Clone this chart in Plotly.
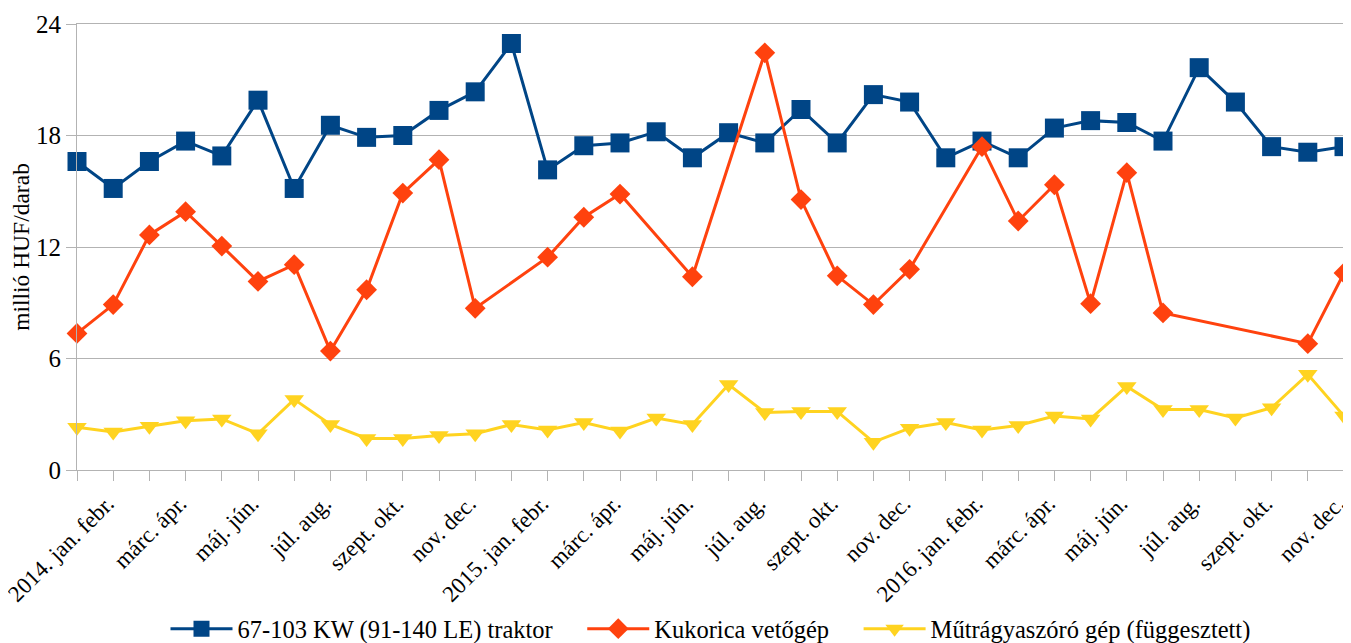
import plotly.graph_objects as go

years = ["2014", "2015", "2016"]
months = ["jan.", "febr.", "márc.", "ápr.", "máj.", "jún.",
          "júl.", "aug.", "szept.", "okt.", "nov.", "dec."]
categories = [f"{y}. {m}" for y in years for m in months]

tick_labels = ["2014. jan. febr.", "márc. ápr.", "máj. jún.", "júl. aug.", "szept. okt.", "nov. dec.",
               "2015. jan. febr.", "márc. ápr.", "máj. jún.", "júl. aug.", "szept. okt.", "nov. dec.",
               "2016. jan. febr.", "márc. ápr.", "máj. jún.", "júl. aug.", "szept. okt.", "nov. dec."]

traktor = [16.6, 15.15, 16.6, 17.7, 16.9, 19.9, 15.15, 18.55, 17.9, 18.0, 19.35, 20.35,
           22.95, 16.15, 17.45, 17.6, 18.2, 16.8, 18.15, 17.6, 19.4, 17.6, 20.2, 19.8,
           16.8, 17.7, 16.8, 18.4, 18.8, 18.7, 17.7, 21.65, 19.8, 17.4, 17.1, 17.4]
vetogep = [7.35, 8.9, 12.65, 13.9, 12.05, 10.15, 11.05, 6.4, 9.7, 14.9, 16.7, 8.7,
           None, 11.45, 13.6, 14.85, None, 10.4, None, 22.45, 14.55, 10.45, 8.9, 10.8,
           None, 17.4, 13.4, 15.35, 8.95, 16.0, 8.45, None, None, None, 6.8, 10.6]
mutragya = [2.3, 2.05, 2.35, 2.65, 2.75, 1.95, 3.8, 2.45, 1.7, 1.7, 1.85, 1.95,
            2.45, 2.15, 2.55, 2.1, 2.8, 2.45, 4.6, 3.1, 3.15, 3.15, 1.5, 2.25,
            2.55, 2.15, 2.4, 2.9, 2.75, 4.5, 3.25, 3.25, 2.8, 3.35, 5.15, 2.9]

names = ["67-103 KW (91-140 LE) traktor", "Kukorica vetőgép", "Műtrágyaszóró gép (függesztett)"]
colors = ["#004586", "#ff420e", "#ffd320"]
symbols = ["square", "diamond", "triangle-down"]
sizes = [19, 16, 17]

# tick text: label on every second month, tick mark on every month
ticktext = []
for i, c in enumerate(categories):
    ticktext.append(tick_labels[i // 2] if i % 2 == 1 else "")

pad = "\u00a0\u00a0\u00a0\u00a0"  # extra spacing between legend entries
fig = go.Figure()
for k, (ys, n, c, s, sz) in enumerate(zip([traktor, vetogep, mutragya], names, colors, symbols, sizes)):
    fig.add_trace(go.Scatter(
        x=categories, y=ys, name=n + (pad if k < 2 else ""), mode="lines+markers",
        line=dict(color=c, width=3),
        marker=dict(symbol=s, size=sz, color=c),
        connectgaps=True, cliponaxis=False))

font = "Liberation Serif, Times New Roman, serif"
# page body has an 8px margin, so the figure is 8px smaller and margins shifted
fig.update_layout(
    width=1343, height=635,
    margin=dict(l=69, r=7, t=16, b=173, autoexpand=False),
    paper_bgcolor="white", plot_bgcolor="white",
    font=dict(family=font, size=24, color="black"),
    showlegend=True,
    legend=dict(orientation="h", x=0.5, xanchor="center", y=-0.356, yanchor="middle",
                bgcolor="rgba(0,0,0,0)",
                font=dict(family=font, size=24.5), itemwidth=62, tracegroupgap=0),
    xaxis=dict(type="category", range=[0, 35], tickmode="array",
               tickvals=categories, ticktext=ticktext, tickangle=-45,
               ticks="outside", ticklen=10, tickcolor="#b3b3b3",
               ticklabelshift=-6, ticklabelstandoff=0,
               showline=True, linecolor="#b3b3b3", mirror=True, automargin=False,
               showgrid=False, tickfont=dict(family=font, size=23)),
    yaxis=dict(range=[0, 24], dtick=6, tick0=0,
               ticks="outside", ticklen=10, tickcolor="#b3b3b3",
               showline=True, linecolor="#b3b3b3", mirror=True, automargin=False,
               gridcolor="#b3b3b3", gridwidth=1, zeroline=False,
               tickfont=dict(family=font, size=25),
               title=dict(text="millió HUF/darab", font=dict(family=font, size=23.5), standoff=8)),
)

fig.write_html("out.html")
